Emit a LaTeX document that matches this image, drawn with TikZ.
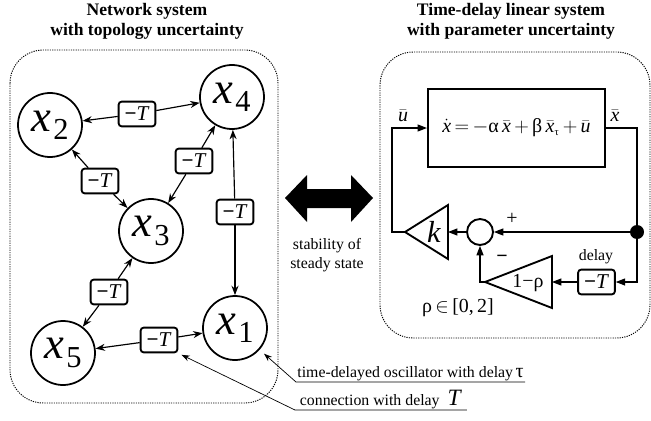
\documentclass[tikz,border=0pt]{standalone}
\usepackage{fontspec}
\setmainfont{Liberation Serif}
\usetikzlibrary{arrows.meta}

\newcommand{\xlab}[1]{{\fontsize{38}{38}\selectfont\textit{x}}\hspace{2pt}\raisebox{-7pt}{\fontsize{26}{26}\selectfont #1}}
\newcommand{\dlyT}{\textbf{−}\textit{T}}

\begin{document}
\begin{tikzpicture}
  [x=0.03cm, y=-0.03cm,
   state/.style={circle,draw,line width=1.5pt,minimum size=1.92cm,inner sep=0pt},
   delaybox/.style={draw,line width=1.6pt,rounded corners=2.5pt,minimum width=1.1cm,
     minimum height=0.74cm,inner sep=0pt,fill=white,font=\fontsize{18}{18}\selectfont},
   link/.style={line width=1pt,-{Stealth[length=8pt,width=6pt]}},
   sig/.style={line width=0.9pt,-{Triangle[length=8pt,width=6pt]}},
   wire/.style={line width=0.9pt},
   frame/.style={line width=0.8pt,dash pattern=on 1pt off 1pt,rounded corners=1cm},
   title/.style={font=\bfseries\fontsize{15}{17}\selectfont,align=center,inner sep=0pt,anchor=north},
   note/.style={font=\fontsize{13.5}{16}\selectfont},
   big/.style={font=\fontsize{17}{17}\selectfont}]
  \useasboundingbox (0,0) rectangle (651,420);

  % titles
  \node[title] (ltitle) at (147,3) {Network system\\with topology uncertainty};
  \node[title] (rtitle) at (511,3) {Time-delay linear system\\with parameter uncertainty};

  % dotted frames
  \draw[frame] (10,50) rectangle (278,403);
  \draw[frame] (380,52) rectangle (650,338);

  % network
  \node[state] (x1) at (235,328) {\xlab{1}};
  \node[state] (x2) at (50,125) {\xlab{2}};
  \node[state] (x3) at (151,231) {\xlab{3}};
  \node[state] (x4) at (232,97) {\xlab{4}};
  \node[state] (x5) at (63,353) {\xlab{5}};

  \node[delaybox] (t24) at (137,114) {\dlyT};
  \node[delaybox] (t34) at (194,161) {\dlyT};
  \node[delaybox] (t23) at (100,181) {\dlyT};
  \node[delaybox] (t14) at (235,212) {\dlyT};
  \node[delaybox] (t35) at (109,292) {\dlyT};
  \node[delaybox] (t15) at (159,340) {\dlyT};

  \foreach \dly/\from/\to in {t24/x2/x4, t34/x3/x4, t23/x2/x3,
    t14/x1/x4, t35/x3/x5, t15/x1/x5}
  \path (\dly) edge[link] (\from) edge[link] (\to);

  % big double arrow
  \fill (285,198) -- (307,175) -- (307,189) -- (351,189) -- (351,175) -- (373,198)
    -- (351,222) -- (351,208) -- (307,208) -- (307,222) -- cycle;
  \node[note,align=center,anchor=north,inner sep=0pt] (stab) at (327,238) {stability of\\steady state};

  % feedback loop
  \node[draw,line width=1.8pt,minimum width=5.31cm,minimum height=2.34cm] (sys) at (516.5,128)
    {\fontsize{17}{17}\selectfont$\dot{\mathit{x}}\,{=}\,{-}\mbox{α}\,\bar{\mathit{x}}\,{+}\,\mbox{β}\,\bar{\mathit{x}}_{\mbox{\fontsize{9}{9}\selectfont τ}}\,{+}\,\bar{\mathit{u}}$};
  \node[circle,fill,inner sep=0pt,minimum size=0.42cm] (dot) at (637,232) {};
  \node[circle,draw,line width=1.6pt,inner sep=0pt,minimum size=0.78cm] (sum) at (480,232) {};
  \node[delaybox] (dT) at (596.5,282) {\dlyT};

  \draw[line width=1.6pt,line join=miter] (448,205) -- (448,259) -- (405,232) -- cycle;
  \coordinate (ktip) at (405,232);
  \coordinate (kin) at (448,232);
  \node (klab) at (434,232) {\fontsize{26}{26}\selectfont\textit{k}};

  \draw[line width=1.6pt,line join=miter] (552,256) -- (552,308) -- (485,282) -- cycle;
  \coordinate (rtip) at (485,282);
  \coordinate (rin) at (552,282);
  \node[big] (rlab) at (528,283) {1−ρ};

  \draw[sig] (dot) -- (sum);
  \draw[sig] (sum) -- (kin);
  \draw[sig] (ktip) -- ++(-13,0) |- (sys.west);
  \draw[wire] (sys.east) -| (dot);
  \draw[sig] (dot) |- (dT);
  \draw[sig] (dT) -- (rin);
  \draw[sig] (rtip) -| (sum);

  \node[big] (ubar) at (403,116) {$\bar{\mathit{u}}$};
  \node[big] (xbar) at (615,116) {$\bar{\mathit{x}}$};
  \node[big] (plus) at (512,219) {+};
  \node[big] (minus) at (502,259) {\textbf{−}};
  \node[note] (dlab) at (596,257) {delay};
  \node[big] (rng) at (458,308) {ρ$\,\in\,$[0,\,2]};

  % notes
  \node[note,anchor=south west,inner sep=1pt] (osc) at (296,382)
    {time-delayed oscillator with delay\,{\fontsize{17}{17}\selectfont τ}};
  \draw[line width=0.6pt,-{Stealth[length=7pt,width=5pt]},shorten >=5pt]
    (osc.south east) -- (osc.south west) -- (x1);
  \node[note,anchor=south west,inner xsep=4pt,inner ysep=1pt] (conn) at (295,410)
    {connection with delay\enspace{\fontsize{20}{20}\selectfont\textit{T}}};
  \draw[line width=0.6pt,-{Stealth[length=7pt,width=5pt]},shorten >=3pt]
    (conn.south east) -- (conn.south west) -- (t15.south east);
\end{tikzpicture}
\end{document}
